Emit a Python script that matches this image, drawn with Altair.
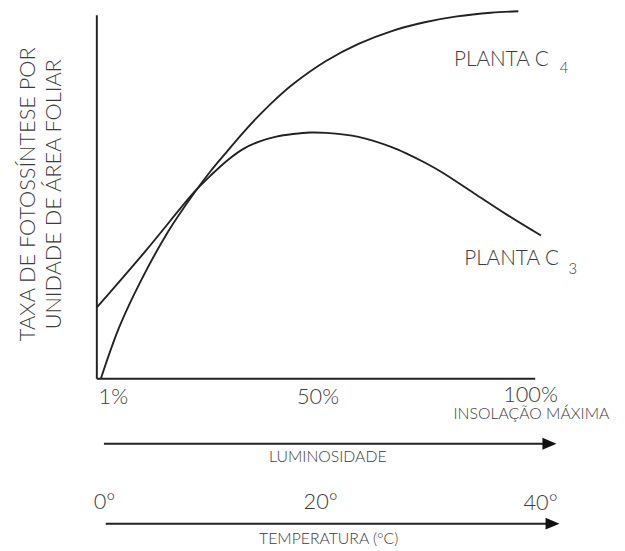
import altair as alt
import pandas as pd

# ---- data (x: light intensity %, y: relative rate) ----
c4_x = [0.9, 5.0, 10.0, 16.0, 22.0, 25.6, 29.3, 33.1, 36.7, 40.4, 44.2, 51.6, 58.9, 66.4, 73.8, 81.1, 88.7, 94.9]
c4_y = [0.0, 14.0, 27.0, 40.2, 51.0, 56.8, 62.2, 67.6, 72.3, 76.7, 80.7, 87.0, 91.7, 95.2, 97.6, 99.2, 100.2, 100.6]

c3_x = [0.0, 11.0, 22.0, 25.6, 29.3, 33.1, 36.7, 40.4, 44.2, 48.0, 51.6, 58.9, 66.4, 70.0, 73.8, 77.6, 84.9, 92.2, 100.0]
c3_y = [19.5, 35.0, 51.2, 55.6, 59.7, 63.0, 65.0, 66.3, 67.0, 67.4, 67.3, 66.2, 63.4, 61.5, 59.2, 56.6, 50.8, 45.0, 39.2]

lum_labels = ["1%", "50%", "100%"]
temp_labels = ["0°", "20°", "40°"]
y_title = ["TAXA DE FOTOSSÍNTESE POR", "UNIDADE DE ÁREA FOLIAR"]

FONT = "Lato"
INK = "#222222"
TXT = "#3c3c3c"

curves = pd.DataFrame(
    [{"x": a, "y": b, "s": "C4"} for a, b in zip(c4_x, c4_y)]
    + [{"x": a, "y": b, "s": "C3"} for a, b in zip(c3_x, c3_y)]
)

xs = alt.Scale(domain=[0, 100], nice=False, zero=False)
ys = alt.Scale(domain=[0, 100], nice=False, zero=False)


def X(f="x"):
    return alt.X(f"{f}:Q", scale=xs, axis=None)


def Y(f="y"):
    return alt.Y(f"{f}:Q", scale=ys, axis=None)


lines = alt.Chart(curves).mark_line(
    color=INK, strokeWidth=1.9, interpolate="catmull-rom"
).encode(x=X(), y=Y(), detail="s:N")

# axis frame lines and arrows
rules_df = pd.DataFrame([
    {"x": 0.0, "x2": 0.0, "y": 0.0, "y2": 99.5},
    {"x": 0.0, "x2": 98.7, "y": 0.0, "y2": 0.0},
    {"x": 1.6, "x2": 101.0, "y": -17.8, "y2": -17.8},
    {"x": 2.0, "x2": 101.5, "y": -39.7, "y2": -39.7},
])
rules = alt.Chart(rules_df).mark_rule(color=INK, strokeWidth=2).encode(
    x=X(), x2="x2:Q", y=Y(), y2="y2:Q"
)

heads_df = pd.DataFrame([{"x": 101.9, "y": -17.8}, {"x": 102.6, "y": -39.7}])
heads = alt.Chart(heads_df).mark_point(
    shape="M-1,-0.85L1,0L-1,0.85Z", filled=True, opacity=1, color="#111111", size=200, strokeWidth=0
).encode(x=X(), y=Y())


def text_layer(df, align, size, angle=None, weight=300):
    kw = dict(align=align, baseline="alphabetic", font=FONT, fontSize=size,
              fontWeight=weight, color=TXT)
    if angle is not None:
        kw["angle"] = angle
    return alt.Chart(df).mark_text(**kw).encode(x=X(), y=Y(), text="t:N")


# text annotations
big_df = pd.DataFrame([
    {"t": lum_labels[0], "x": 0.4, "y": -7.0, "a": "left"},
    {"t": lum_labels[1], "x": 49.8, "y": -7.0, "a": "center"},
    {"t": lum_labels[2], "x": 103.8, "y": -6.4, "a": "right"},
    {"t": temp_labels[0], "x": -0.7, "y": -35.7, "a": "left"},
    {"t": temp_labels[1], "x": 50.4, "y": -35.7, "a": "center"},
    {"t": temp_labels[2], "x": 99.9, "y": -35.9, "a": "center"},
])
big_left = text_layer(big_df[big_df.a == "left"], "left", 22)
big_center = text_layer(big_df[big_df.a == "center"], "center", 22)
big_right = text_layer(big_df[big_df.a == "right"], "right", 22)

small_right_df = pd.DataFrame([
    {"t": "INSOLAÇÃO MÁXIMA", "x": 115.4, "y": -10.9},
])
small_right = text_layer(small_right_df, "right", 16)

small_df = pd.DataFrame([
    {"t": "LUMINOSIDADE", "x": 52.0, "y": -22.7},
    {"t": "TEMPERATURA (°C)", "x": 52.2, "y": -45.2},
])
small = text_layer(small_df, "center", 16)

plant_df = pd.DataFrame([
    {"t": "PLANTA C", "x": 80.4, "y": 85.7},
    {"t": "PLANTA C", "x": 82.7, "y": 31.1},
])
plant = text_layer(plant_df, "left", 21)
sub_df = pd.DataFrame([
    {"t": "4", "x": 104.2, "y": 83.6},
    {"t": "3", "x": 106.2, "y": 28.6},
])
sub = text_layer(sub_df, "left", 15)

ytitle_df = pd.DataFrame([
    {"t": y_title[0], "x": -14.0, "y": 50.5},
    {"t": y_title[1], "x": -8.0, "y": 50.5},
])
ytitle = text_layer(ytitle_df, "center", 22, angle=270)

chart = alt.layer(
    rules, lines, heads, big_left, big_center, big_right, small_right, small,
    plant, sub, ytitle
).properties(
    width=450,
    height=370,
    autosize=alt.AutoSizeParams(type="none"),
    padding={"left": 90, "top": 2, "right": 77, "bottom": 171},
).configure_view(stroke=None)

chart.save("out.html", embed_options={"renderer": "svg", "actions": False})
